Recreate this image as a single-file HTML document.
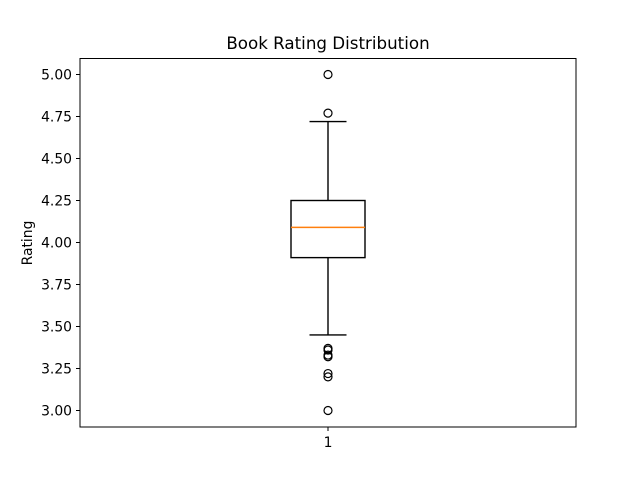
<!DOCTYPE html>
<html><head><meta charset="utf-8"><style>
body{margin:0;background:#fff;}
svg text{font-family:"DejaVu Sans","Liberation Sans",sans-serif;}
</style></head><body>
<svg id="chart" width="640" height="480" xmlns="http://www.w3.org/2000/svg">
<rect width="640" height="480" fill="#fff"/>
<text x="328" y="49" font-size="16.7" text-anchor="middle">Book Rating Distribution</text>
<text transform="translate(32,243) rotate(-90)" font-size="13.9" text-anchor="middle">Rating</text>
<g id="ticks"></g>
<g id="marks"></g>
<rect x="80" y="58.5" width="496" height="368.5" fill="none" stroke="#000" stroke-width="1"/>
</svg>
<script>
const yTicks=[3.00,3.25,3.50,3.75,4.00,4.25,4.50,4.75,5.00];
const categories=["1"];
const q1=[3.91];
const q3=[4.25];
const medians=[4.09];
const whiskLow=[3.45];
const whiskHigh=[4.72];
const outliers=[[5.00,4.77,3.37,3.36,3.33,3.32,3.22,3.20,3.00]];
const NS="http://www.w3.org/2000/svg";
const y=v=>410.5-(v-3)*168;
const x=i=>328+i*100;
function mk(t,a,p){const e=document.createElementNS(NS,t);for(const k in a)e.setAttribute(k,a[k]);p.appendChild(e);return e;}
const T=document.getElementById('ticks'),M=document.getElementById('marks');
yTicks.forEach(v=>{
 const l=mk('line',{x1:76,x2:80,y1:y(v),y2:y(v),stroke:'#000'},T);
 
 
 const t=mk('text',{x:72,y:y(v)+5,'font-size':13.9,'text-anchor':'end'},T);
 t.textContent=v.toFixed(2);
 
 
});
categories.forEach((c,i)=>{
 const cx=x(i);
 mk('line',{x1:cx,x2:cx,y1:427,y2:431,stroke:'#000'},T);
 const t=mk('text',{x:cx,y:447,'font-size':13.9,'text-anchor':'middle'},T);t.textContent=c;
 
 
 const w1=mk('line',{x1:cx,x2:cx,y1:y(q1[i]),y2:y(whiskLow[i]),stroke:'#000','stroke-width':1.4},M);
 
 
 const w2=mk('line',{x1:cx,x2:cx,y1:y(q3[i]),y2:y(whiskHigh[i]),stroke:'#000','stroke-width':1.4},M);
 
 
 [whiskLow[i],whiskHigh[i]].forEach(v=>{const c2=mk('line',{x1:cx-18.5,x2:cx+18.5,y1:y(v),y2:y(v),stroke:'#000','stroke-width':1.4},M);
 
 });
 const b=mk('rect',{x:cx-37,y:y(q3[i]),width:74,height:y(q1[i])-y(q3[i]),fill:'none',stroke:'#000','stroke-width':1.4},M);
 
 
 const md=mk('line',{x1:cx-37,x2:cx+37,y1:y(medians[i]),y2:y(medians[i]),stroke:'#ff7f0e','stroke-width':1.4},M);
 
 
 outliers[i].forEach(v=>{const o=mk('circle',{cx:cx,cy:y(v),r:4,fill:'none',stroke:'#000','stroke-width':1.2},M);
 
 });
});
</script>
</body></html>
